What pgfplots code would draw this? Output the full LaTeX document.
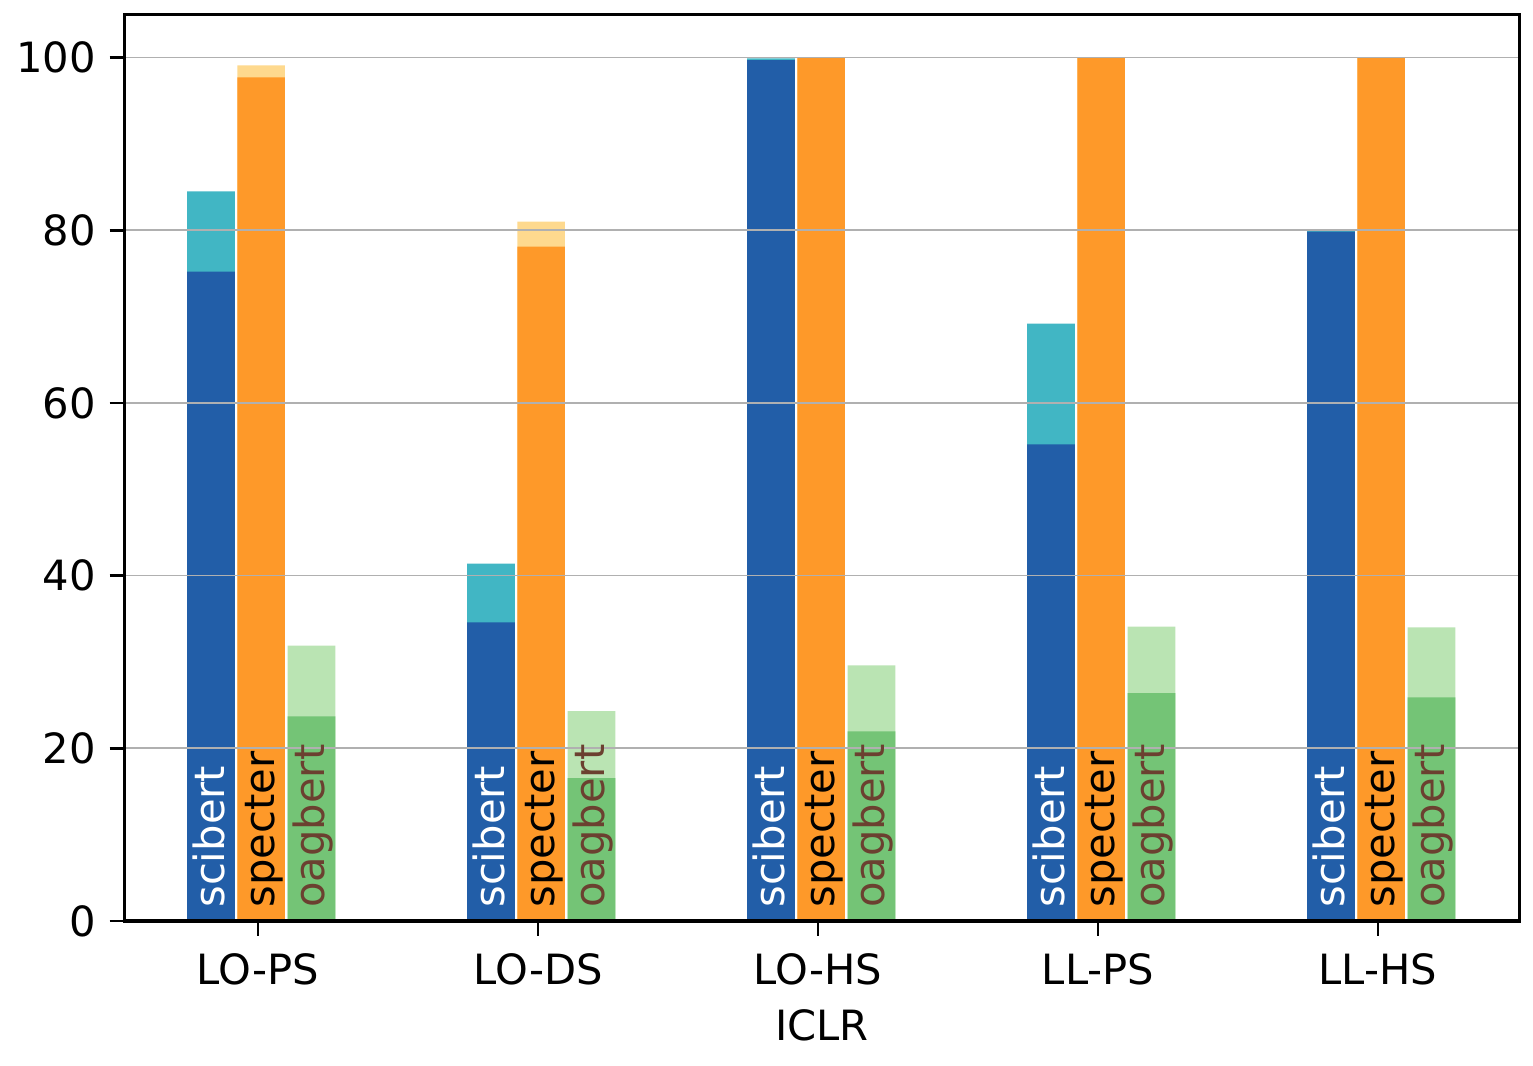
\documentclass[border=0pt]{standalone}
\usepackage{pgfplots}
\pgfplotsset{compat=1.18}
\usepackage{pgfplotstable}
\usepackage{fontspec}
\setmainfont{DejaVu Sans}

\definecolor{sciD}{HTML}{225EA8}
\definecolor{sciL}{HTML}{41B6C4}
\definecolor{speD}{HTML}{FE9929}
\definecolor{speL}{HTML}{FED98E}
\definecolor{oagD}{HTML}{74C476}
\definecolor{oagL}{HTML}{BAE4B3}
\definecolor{oagT}{HTML}{6B4030}
\definecolor{gridc}{HTML}{B0B0B0}

\pgfplotstableread{
x sciD sciL speD speL oagD oagL
0 75.2 84.5 97.7 99.1 23.7 31.9
1 34.6 41.4 78.1 81.0 16.55 24.3
2 99.7 99.9 100 100 21.95 29.6
3 55.2 69.2 100 100 26.4 34.1
4 79.85 80.1 100 100 25.9 34.0
}\data

\newcommand{\fs}{\fontsize{15}{18}\selectfont}

\begin{document}
\begin{tikzpicture}
\begin{axis}[
  at={(0,0)}, anchor=south west,
  scale only axis, width=501.9pt, height=326.3pt,
  xmin=-0.476, xmax=4.504, ymin=0, ymax=105,
  xtick={0,1,2,3,4},
  xticklabels={LO-PS,LO-DS,LO-HS,LL-PS,LL-HS},
  ytick={0,20,40,60,80,100},
  ymajorgrids,
  grid style={color=gridc, line width=0.6pt},
  axis on top,
  tick align=outside, tick pos=left,
  major tick length=5.4pt,
  every tick/.style={black, line width=0.9pt},
  axis line style={line width=1.1pt},
  ticklabel style={font=\fs},
  xticklabel style={yshift=-2.9pt},
  yticklabel style={xshift=-1.5pt},
  label style={font=\fs},
  xlabel={ICLR},
  xlabel style={yshift=-1.8pt},
  /pgf/number format/assume math mode=true,
  bar width=0.17,
]
% scibert
\addplot[ybar, bar shift=-0.168, fill=sciL, draw=none] table[x=x,y=sciL]{\data};
\addplot[ybar, bar shift=-0.168, fill=sciD, draw=none] table[x=x,y=sciD]{\data};
% specter
\addplot[ybar, bar shift=0.011, fill=speL, draw=none] table[x=x,y=speL]{\data};
\addplot[ybar, bar shift=0.011, fill=speD, draw=none] table[x=x,y=speD]{\data};
% oagbert
\addplot[ybar, bar shift=0.191, fill=oagL, draw=none] table[x=x,y=oagL]{\data};
\addplot[ybar, bar shift=0.191, fill=oagD, draw=none] table[x=x,y=oagD]{\data};
% labels
\addplot[draw=none, nodes near coords={scibert},
  nodes near coords style={xshift=2.1pt, yshift=4.6pt, rotate=90, anchor=west, inner sep=0pt,
    text height=0.76em, text depth=0.24em, font=\fs, text=white}]
  table[x expr=\thisrow{x}-0.168, y expr=0]{\data};
\addplot[draw=none, nodes near coords={specter},
  nodes near coords style={xshift=2.1pt, yshift=4.6pt, rotate=90, anchor=west, inner sep=0pt,
    text height=0.76em, text depth=0.24em, font=\fs, text=black}]
  table[x expr=\thisrow{x}+0.011, y expr=0]{\data};
\addplot[draw=none, nodes near coords={oagbert},
  nodes near coords style={xshift=2.1pt, yshift=4.6pt, rotate=90, anchor=west, inner sep=0pt,
    text height=0.76em, text depth=0.24em, font=\fs, text=oagT}]
  table[x expr=\thisrow{x}+0.191, y expr=0]{\data};
\end{axis}
\pgfresetboundingbox
\path[use as bounding box] (-44.9pt,-52.0pt) rectangle (506.9pt,331.5pt);
\end{tikzpicture}
\end{document}
